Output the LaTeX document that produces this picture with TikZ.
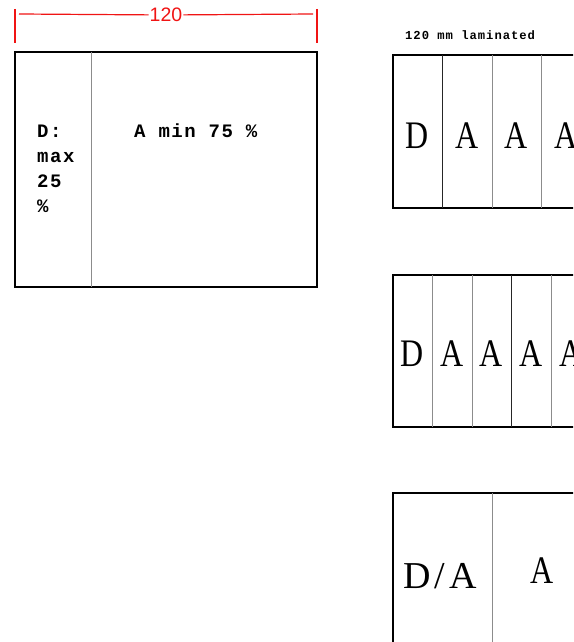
\documentclass[tikz,border=0pt]{standalone}
\usepackage{fontspec}
\usepackage{graphicx}
\usepackage{xcolor}
\usetikzlibrary{positioning}
\newfontfamily\slabfont[LetterSpace=8]{Liberation Mono}
\newfontfamily\lettfont{Liberation Serif}
\newfontfamily\dimfont{Liberation Sans}
\newcommand{\narrowglyph}[1]{\scalebox{0.82}[1]{#1}}
\definecolor{divgray}{gray}{0.55}
\definecolor{dimred}{RGB}{240,20,20}

\begin{document}
\begin{tikzpicture}[
    x=1pt, y=-1pt,
    panel/.style={draw=black, line width=1.3pt},
    divider/.style={draw=divgray, line width=1pt},
    darkdiv/.style={draw=black!85, line width=1pt},
    letter/.style={anchor=base, inner sep=0pt, font=\fontsize{39}{39}\selectfont\lettfont},
    slab/.style={anchor=base west, inner sep=0pt, font=\fontsize{19}{25}\selectfont\slabfont\bfseries},
    dim/.style={draw=dimred, line width=1.2pt}
]
    \useasboundingbox (0,0) rectangle (573,642);
    \clip (0,0) rectangle (573,642);

    % Dimension line
    \coordinate (dimL) at (19,14);
    \coordinate (dimR) at (313,14);
    \node[font=\fontsize{19.5}{19.5}\selectfont\dimfont, text=dimred, inner sep=1pt] (dimlabel) at (166,15) {120};
    \draw[dim] (15,9) -- (15,43);
    \draw[dim] (317,9) -- (317,43);
    \draw[dim] (dimL) -- (dimlabel) -- (dimR);

    % Left panel
    \draw[panel] (15,52) rectangle (317,287);
    \draw[divider] (91,52) -- (91,287);
    \node[slab, align=left] (dshare) at (37,212) {D:\\max\\25\\\%};
    \node[slab] (ashare) at (134,137) {A min 75 \%};

    % Right column title
    \node[slab, font=\fontsize{12.2}{12.2}\selectfont\slabfont\bfseries] (lamtitle) at (405,40) {120 mm laminated};

    % Top: D A A A
    \draw[panel] (393,55) rectangle (600,208);
    \draw[darkdiv] (442,55) -- (442,208);
    \draw[divider] (492,55) -- (492,208);
    \draw[divider] (541,55) -- (541,208);
    \node[letter] (dtop) at (417.5,148) {\narrowglyph{D}};
    \node[letter] (atop1) at (467,148) {\narrowglyph{A}};
    \node[letter] (atop2) at (516.5,148) {\narrowglyph{A}};
    \node[letter] (atop3) at (566,148) {\narrowglyph{A}};

    % Middle: D A A A A
    \draw[panel] (393,275) rectangle (600,427);
    \draw[divider] (432,275) -- (432,427);
    \draw[divider] (472,275) -- (472,427);
    \draw[darkdiv] (511,275) -- (511,427);
    \draw[divider] (551,275) -- (551,427);
    \node[letter] (dmid) at (412.5,366) {\narrowglyph{D}};
    \node[letter] (amid1) at (452,366) {\narrowglyph{A}};
    \node[letter] (amid2) at (491.5,366) {\narrowglyph{A}};
    \node[letter] (amid3) at (531,366) {\narrowglyph{A}};
    \node[letter] (amid4) at (571,366) {\narrowglyph{A}};

    % Bottom: D/A A
    \draw[panel] (393,493) rectangle (600,660);
    \draw[divider] (492,493) -- (492,660);
    \node[letter, font=\fontsize{38}{38}\selectfont\lettfont] (dabot) at (440,588) {D\kern4pt/\kern4pt A};
    \node[letter] (abot) at (542.5,583) {\narrowglyph{A}};

\end{tikzpicture}
\end{document}
